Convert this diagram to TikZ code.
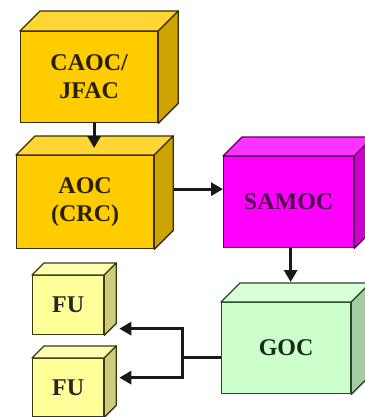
\documentclass[tikz,border=0pt]{standalone}
\usepackage{fontspec}
\setmainfont{Liberation Serif}
\usetikzlibrary{positioning,arrows.meta,calc}

\definecolor{goldfront}{HTML}{FFCC00}
\definecolor{goldtop}{HTML}{FFD633}
\definecolor{goldside}{HTML}{CCA300}
\definecolor{goldline}{HTML}{3A2E00}
\definecolor{magfront}{HTML}{FF00FF}
\definecolor{magtop}{HTML}{FF33FF}
\definecolor{magside}{HTML}{CC00CC}
\definecolor{magline}{HTML}{5C005C}
\definecolor{grnfront}{HTML}{CCFFCC}
\definecolor{grntop}{HTML}{D9FFD9}
\definecolor{grnside}{HTML}{A3CCA3}
\definecolor{grnline}{HTML}{244A24}
\definecolor{fufront}{HTML}{FFFF99}
\definecolor{futop}{HTML}{FFFFB3}
\definecolor{fuside}{HTML}{CCCC7A}
\definecolor{fuline}{HTML}{3A3A14}

\begin{document}
\begin{tikzpicture}[x=1pt,y=-1pt,
  cube/.style={draw, line width=1.3pt, anchor=north west, align=center,
    font=\rmfamily\bfseries\fontsize{24}{28}\selectfont, inner sep=0pt},
  link/.style={line width=3pt, black!90},
  arr/.style={link, -{Triangle[length=12pt,width=13pt]}}]
  \useasboundingbox (0,0) rectangle (364,417);

  % front faces
  \node[cube, fill=goldfront, draw=goldline, text=goldline!70!black,
    minimum width=137pt, minimum height=91pt] (caoc) at (20,31) {CAOC/\\JFAC};
  \node[cube, fill=goldfront, draw=goldline, text=goldline!70!black,
    minimum width=137pt, minimum height=93pt] (aoc) at (16,155) {AOC\\(CRC)};
  \node[cube, fill=magfront, draw=magline, text=magline!80!black,
    minimum width=130pt, minimum height=91pt] (samoc) at (223,156) {SAMOC};
  \node[cube, fill=grnfront, draw=grnline, text=grnline!60!black,
    minimum width=129pt, minimum height=91pt] (goc) at (221,302) {GOC};
  \node[cube, fill=fufront, draw=fuline, text=black!85,
    minimum width=71pt, minimum height=59pt] (fu1) at (32,275) {FU};
  \node[cube, fill=fufront, draw=fuline, text=black!85,
    minimum width=71pt, minimum height=58pt] (fu2) at (32,358) {FU};

  % top and side faces
  \foreach \n/\d/\t/\s/\l in {caoc/20/goldtop/goldside/goldline,
      aoc/19/goldtop/goldside/goldline, samoc/19/magtop/magside/magline,
      goc/19/grntop/grnside/grnline, fu1/12/futop/fuside/fuline,
      fu2/12/futop/fuside/fuline} {
    \draw[line width=1.3pt, draw=\l, fill=\t, line join=round]
      (\n.north west) -- ++(\d,-\d) -- ($(\n.north east)+(\d,-\d)$)
      -- (\n.north east) -- cycle;
    \draw[line width=1.3pt, draw=\l, fill=\s, line join=round]
      (\n.north east) -- ++(\d,-\d) -- ($(\n.south east)+(\d,-\d)$)
      -- (\n.south east) -- cycle;
  }

  % connectors
  \coordinate (aoc-top) at ($(aoc.north)+(9,-7)$);
  \draw[arr] (caoc.south -| aoc-top) -- (aoc-top);
  \coordinate (aoc-out) at ($(aoc.east)+(19,-13)$);
  \draw[arr] (aoc-out) -- (samoc.west |- aoc-out);
  \coordinate (goc-top) at ($(goc.north)+(19,-20)$);
  \draw[arr] ([xshift=2pt]samoc.south) -- ([xshift=2pt]samoc.south |- goc-top);
  \coordinate (split) at (182,357);
  \coordinate (fu1-in) at ($(fu1.east)+(15,23.5)$);
  \coordinate (fu2-in) at ($(fu2.east)+(15,-10)$);
  \draw[link] (goc.west |- split) -- (split);
  \draw[arr] (split) |- (fu1-in);
  \draw[arr] (split) |- (fu2-in);
\end{tikzpicture}
\end{document}
